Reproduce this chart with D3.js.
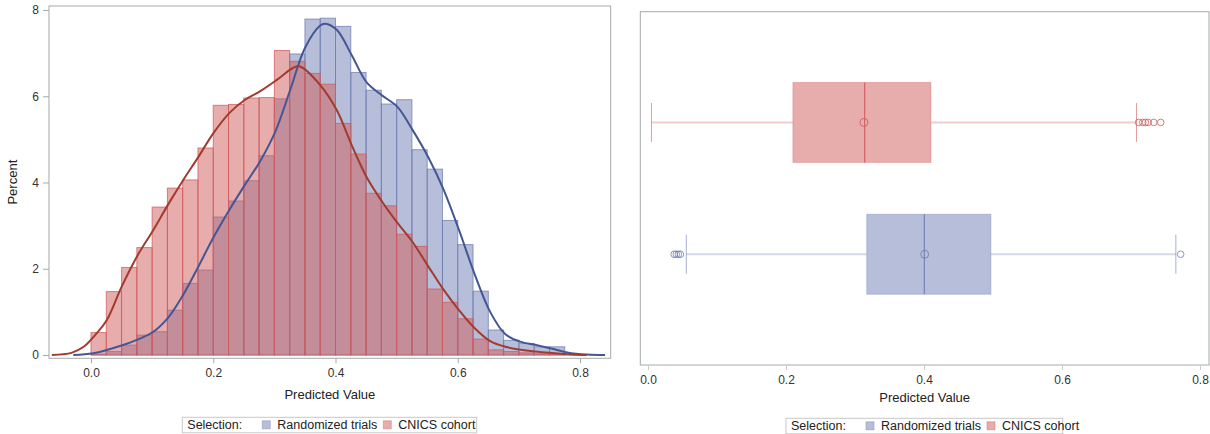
<!DOCTYPE html>
<html>
<head>
<meta charset="utf-8">
<script src="https://cdn.jsdelivr.net/npm/d3@7"></script>
<style>
  body { margin: 0; background: #fff; }
  svg { font-family: "Liberation Sans", Arial, sans-serif; }
  .tick text { fill: #333; font-size: 12px; }
</style>
</head>
<body>
<svg id="chart" width="1210" height="434"></svg>
<script>
// histogram bins (left edge), width 0.025
const binLeft = [0, 0.025, 0.05, 0.075, 0.1, 0.125, 0.15, 0.175, 0.2, 0.225, 0.25, 0.275,
  0.3, 0.325, 0.35, 0.375, 0.4, 0.425, 0.45, 0.475, 0.5, 0.525, 0.55, 0.575,
  0.6, 0.625, 0.65, 0.675, 0.7, 0.725, 0.75, 0.775];
const binWidth = 0.025;

// percent per bin
const randPct = [0.02, 0.08, 0.23, 0.46, 0.54, 1.04, 1.66, 1.97, 3.20, 3.57, 4.04, 4.62,
  5.94, 6.98, 7.79, 7.81, 7.62, 6.55, 6.14, 5.82, 5.92, 4.76, 4.31, 3.12,
  2.56, 1.48, 0.58, 0.34, 0.27, 0.19, 0.19, 0];
const cnicsPct = [0.52, 1.47, 2.03, 2.49, 3.43, 3.87, 4.06, 4.80, 5.79, 5.81, 5.96, 5.97,
  7.06, 6.81, 6.53, 6.28, 5.37, 4.66, 3.75, 3.46, 2.80, 2.52, 1.53, 1.22,
  0.84, 0.37, 0.12, 0.08, 0.05, 0.03, 0.02, 0.01];

// density curves
const randDensX = [-0.029, 0.004, 0.05, 0.075, 0.102, 0.127, 0.151, 0.176, 0.2, 0.227, 0.252, 0.277,
  0.301, 0.326, 0.35, 0.375, 0.383, 0.402, 0.427, 0.451, 0.476, 0.501, 0.526, 0.552,
  0.577, 0.602, 0.627, 0.653, 0.678, 0.702, 0.728, 0.753, 0.779, 0.811, 0.841];
const randDensY = [0, 0.04, 0.22, 0.35, 0.54, 0.88, 1.40, 2.06, 2.72, 3.38, 3.95, 4.50,
  5.16, 6.15, 7.12, 7.64, 7.68, 7.54, 6.94, 6.32, 6.02, 5.76, 5.22, 4.58,
  3.83, 2.90, 1.90, 1.00, 0.48, 0.31, 0.23, 0.15, 0.06, 0.01, 0];
const cnicsDensX = [-0.064, -0.032, -0.012, 0.009, 0.026, 0.05, 0.075, 0.102, 0.127, 0.151, 0.176, 0.2,
  0.227, 0.252, 0.277, 0.304, 0.331, 0.342, 0.375, 0.402, 0.427, 0.451, 0.476, 0.501,
  0.526, 0.552, 0.577, 0.602, 0.627, 0.653, 0.678, 0.728, 0.779, 0.811];
const cnicsDensY = [0, 0.05, 0.19, 0.50, 0.81, 1.58, 2.28, 2.90, 3.51, 4.06, 4.60, 5.14,
  5.62, 5.92, 6.12, 6.38, 6.66, 6.69, 6.26, 5.68, 4.85, 4.12, 3.56, 3.07,
  2.62, 2.05, 1.51, 1.04, 0.63, 0.32, 0.19, 0.08, 0.02, 0];

// box plot summaries (top to bottom)
const boxGroups = ["CNICS cohort", "Randomized trials"];
const boxQ1 = [0.210, 0.317];
const boxMedian = [0.314, 0.4005];
const boxQ3 = [0.410, 0.497];
const boxMean = [0.313, 0.401];
const boxLo = [0.005, 0.0555];
const boxHi = [0.708, 0.765];
const boxOutliers = [[0.711, 0.717, 0.721, 0.725, 0.733, 0.743], [0.038, 0.041, 0.044, 0.047, 0.772]];

const xTicks = [0, 0.2, 0.4, 0.6, 0.8];
const yTicks = [0, 2, 4, 6, 8];
const legendItems = ["Randomized trials", "CNICS cohort"];

const fillColor = {"Randomized trials": "#6F7EB3", "CNICS cohort": "#D05B5B"};
const lineColor = {"Randomized trials": "#445694", "CNICS cohort": "#A23A2E"};
const frameColor = "#a5aaaa";

const svg = d3.select('#chart');

// ---------- left panel: histogram + density ----------
const L = {left: 49, right: 610.7, top: 6, bottom: 358.3};
const x1 = d3.scaleLinear().domain([0, 0.8]).range([91, 580]);
const y1 = d3.scaleLinear().domain([0, 8]).range([355, 10]);

const left = svg.append('g');

function drawBars(values, name) {
  left.append('g')
    .selectAll('rect')
    .data(binLeft.map((b, i) => ({b: b, v: values[i]})).filter(d => d.v > 0))
    .join('rect')
    .attr('x', d => x1(d.b))
    .attr('width', d => x1(d.b + binWidth) - x1(d.b))
    .attr('y', d => y1(d.v))
    .attr('height', d => y1(0) - y1(d.v))
    .attr('fill', fillColor[name])
    .attr('fill-opacity', 0.5)
    .attr('stroke', fillColor[name])
    .attr('stroke-opacity', 0.75)
    .attr('stroke-width', 1);
}
drawBars(randPct, "Randomized trials");
drawBars(cnicsPct, "CNICS cohort");

const line = d3.line()
  .x(d => x1(d[0]))
  .y(d => y1(d[1]))
  .curve(d3.curveCatmullRom.alpha(0.5));

left.append('path')
  .datum(randDensX.map((v, i) => [v, randDensY[i]]))
  .attr('d', line)
  .attr('fill', 'none')
  .attr('stroke', lineColor["Randomized trials"])
  .attr('stroke-width', 2);
left.append('path')
  .datum(cnicsDensX.map((v, i) => [v, cnicsDensY[i]]))
  .attr('d', line)
  .attr('fill', 'none')
  .attr('stroke', lineColor["CNICS cohort"])
  .attr('stroke-width', 2);

left.append('rect')
  .attr('x', L.left).attr('y', L.top)
  .attr('width', L.right - L.left).attr('height', L.bottom - L.top)
  .attr('fill', 'none').attr('stroke', frameColor);

const yAx = left.append('g')
  .attr('transform', `translate(${L.left},0)`)
  .call(d3.axisLeft(y1).tickValues(yTicks).tickFormat(d3.format('d')).tickSize(6).tickPadding(4));
const xAx = left.append('g')
  .attr('transform', `translate(0,${L.bottom})`)
  .call(d3.axisBottom(x1).tickValues(xTicks).tickFormat(d3.format('.1f')).tickSize(5).tickPadding(5));
[yAx, xAx].forEach(a => {
  a.select('.domain').remove();
  a.selectAll('.tick line').attr('stroke', frameColor);
});

left.append('text')
  .attr('transform', `translate(17,${(L.top + L.bottom) / 2}) rotate(-90)`)
  .attr('text-anchor', 'middle')
  .attr('font-size', 13).attr('fill', '#222')
  .text('Percent');
left.append('text')
  .attr('x', (L.left + L.right) / 2).attr('y', 399)
  .attr('text-anchor', 'middle')
  .attr('font-size', 13).attr('fill', '#222')
  .text('Predicted Value');

// ---------- right panel: box plots ----------
const R = {left: 640.3, right: 1209, top: 11.7, bottom: 365};
const x2 = d3.scaleLinear().domain([0, 0.8]).range([648, 1200]);
const y2 = d3.scalePoint().domain(boxGroups).range([R.top, R.bottom]).padding(0.84);
const boxH = 80, capH = 39;

const right = svg.append('g');

boxGroups.forEach((g, i) => {
  const cy = y2(g);
  const c = fillColor[g];
  const grp = right.append('g');
  // whiskers
  grp.append('line')
    .attr('x1', x2(boxLo[i])).attr('x2', x2(boxQ1[i]))
    .attr('y1', cy).attr('y2', cy)
    .attr('stroke', c).attr('stroke-opacity', 0.3).attr('stroke-width', 2);
  grp.append('line')
    .attr('x1', x2(boxQ3[i])).attr('x2', x2(boxHi[i]))
    .attr('y1', cy).attr('y2', cy)
    .attr('stroke', c).attr('stroke-opacity', 0.3).attr('stroke-width', 2);
  [boxLo[i], boxHi[i]].forEach(v => {
    grp.append('line')
      .attr('x1', x2(v)).attr('x2', x2(v))
      .attr('y1', cy - capH / 2).attr('y2', cy + capH / 2)
      .attr('stroke', c).attr('stroke-opacity', 0.6).attr('stroke-width', 1);
  });
  // box
  grp.append('rect')
    .attr('x', x2(boxQ1[i])).attr('width', x2(boxQ3[i]) - x2(boxQ1[i]))
    .attr('y', cy - boxH / 2).attr('height', boxH)
    .attr('fill', c).attr('fill-opacity', 0.5)
    .attr('stroke', c).attr('stroke-opacity', 0.35);
  grp.append('line')
    .attr('x1', x2(boxMedian[i])).attr('x2', x2(boxMedian[i]))
    .attr('y1', cy - boxH / 2).attr('y2', cy + boxH / 2)
    .attr('stroke', c).attr('stroke-opacity', 0.9).attr('stroke-width', 1.2);
  grp.append('circle')
    .attr('cx', x2(boxMean[i])).attr('cy', cy).attr('r', 4)
    .attr('fill', 'none').attr('stroke', c).attr('stroke-opacity', 0.85);
  grp.selectAll('.out')
    .data(boxOutliers[i])
    .join('circle')
    .attr('class', 'out')
    .attr('cx', d => x2(d)).attr('cy', cy).attr('r', 3.3)
    .attr('fill', 'none').attr('stroke', c).attr('stroke-opacity', 0.8);
});

right.append('rect')
  .attr('x', R.left).attr('y', R.top)
  .attr('width', R.right - R.left).attr('height', R.bottom - R.top)
  .attr('fill', 'none').attr('stroke', frameColor);

const xAx2 = right.append('g')
  .attr('transform', `translate(0,${R.bottom})`)
  .call(d3.axisBottom(x2).tickValues(xTicks).tickFormat(d3.format('.1f')).tickSize(5).tickPadding(5));
xAx2.select('.domain').remove();
xAx2.selectAll('.tick line').attr('stroke', '#ccc');

right.append('text')
  .attr('x', (R.left + R.right) / 2).attr('y', 402)
  .attr('text-anchor', 'middle')
  .attr('font-size', 13).attr('fill', '#222')
  .text('Predicted Value');

// ---------- legends ----------
function legend(x0, y0, w) {
  const g = svg.append('g').attr('transform', `translate(${x0},${y0})`);
  g.append('rect').attr('width', w).attr('height', 15.5)
    .attr('fill', '#fff').attr('stroke', '#c8c8c8');
  g.append('text').attr('x', 5).attr('y', 12).attr('font-size', 12.5).attr('fill', '#222')
    .text('Selection:');
  let xs = [80, 201];
  legendItems.forEach((name, i) => {
    g.append('rect').attr('x', xs[i]).attr('y', 3.5).attr('width', 8).attr('height', 8)
      .attr('fill', fillColor[name]).attr('fill-opacity', 0.5)
      .attr('stroke', fillColor[name]).attr('stroke-opacity', 0.4);
    g.append('text').attr('x', xs[i] + 15).attr('y', 12).attr('font-size', 12.5).attr('fill', '#222')
      .text(name);
  });
}
legend(182.3, 417.3, 294.4);
legend(786, 418.3, 276.7);
</script>
</body>
</html>
